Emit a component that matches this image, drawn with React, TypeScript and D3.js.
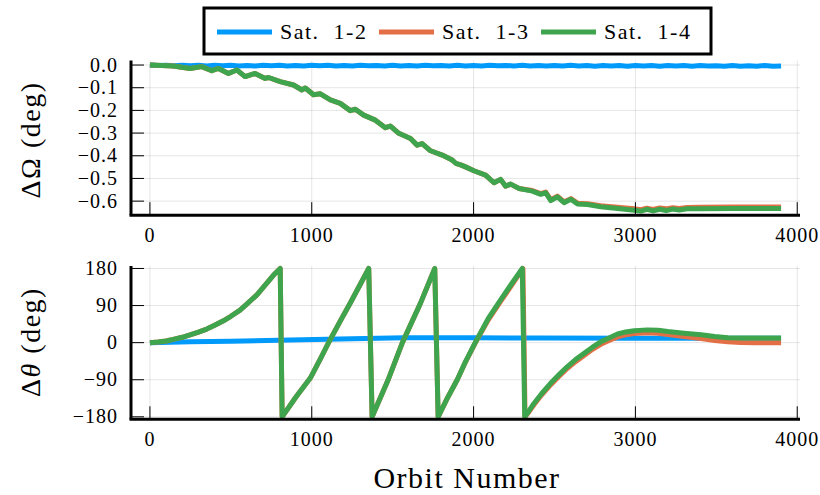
import React, { useEffect, useRef } from 'react';
import * as d3 from 'd3';

// ---- data ----
const orbitTicks = [0, 1000, 2000, 3000, 4000];
const omegaTicks = [0, -0.1, -0.2, -0.3, -0.4, -0.5, -0.6];
const omegaTickLabels = ['0.0', '−0.1', '−0.2', '−0.3', '−0.4', '−0.5', '−0.6'];
const thetaTicks = [180, 90, 0, -90, -180];
const thetaTickLabels = ['180', '90', '0', '−90', '−180'];

const seriesNames = ['Sat. 1-2', 'Sat. 1-3', 'Sat. 1-4'];
const seriesColors = ['#009AFA', '#E26F46', '#3EA44E'];

// ΔΩ, Sat. 1-2 sampled every 50 orbits
const omegaGrid12 = d3.range(0, 3901, 50);
const dOmega12 = [
  0, -0.002, -0.001, -0.003, -0.001, -0.003, -0.001, -0.004, -0.001, -0.003,
  -0.001, -0.004, -0.002, -0.004, -0.001, -0.003, -0.001, -0.004, -0.002, -0.004,
  -0.001, -0.003, -0.001, -0.004, -0.002, -0.004, -0.001, -0.003, -0.002, -0.004,
  -0.001, -0.004, -0.002, -0.004, -0.001, -0.003, -0.002, -0.004, -0.001, -0.004,
  -0.002, -0.004, -0.001, -0.003, -0.002, -0.004, -0.001, -0.004, -0.002, -0.004,
  -0.002, -0.004, -0.001, -0.004, -0.002, -0.005, -0.002, -0.004, -0.002, -0.005,
  -0.002, -0.004, -0.002, -0.005, -0.002, -0.004, -0.002, -0.005, -0.002, -0.004,
  -0.003, -0.005, -0.002, -0.005, -0.003, -0.005, -0.002, -0.005, -0.004,
];

// ΔΩ shared part of Sat. 1-3 and Sat. 1-4 (they overlap here)
const dOmegaShared: [number, number][] = [
  [0, 0], [144, -0.004], [248, -0.015], [320, -0.007], [382, -0.025], [423, -0.015],
  [485, -0.037], [537, -0.022], [588, -0.051], [650, -0.037], [712, -0.059], [733, -0.055],
  [805, -0.073], [887, -0.088], [940, -0.110], [960, -0.101], [1011, -0.131], [1053, -0.127],
  [1115, -0.154], [1176, -0.169], [1238, -0.201], [1269, -0.195], [1321, -0.221], [1393, -0.243],
  [1455, -0.276], [1486, -0.269], [1538, -0.301], [1610, -0.324], [1651, -0.353], [1682, -0.346],
  [1734, -0.378], [1806, -0.397], [1868, -0.419], [1890, -0.433], [1920, -0.440], [1950, -0.449],
  [2002, -0.466], [2074, -0.485], [2126, -0.519], [2167, -0.504], [2198, -0.534], [2229, -0.525],
  [2281, -0.544],
];
const dOmega13Tail: [number, number][] = [
  [2363, -0.553], [2415, -0.567], [2446, -0.560], [2477, -0.594], [2518, -0.578], [2559, -0.603],
  [2601, -0.589], [2642, -0.609], [2704, -0.611], [2786, -0.620], [2890, -0.627], [2993, -0.634],
  [3034, -0.638], [3070, -0.631], [3110, -0.637], [3150, -0.630], [3190, -0.634], [3230, -0.629],
  [3270, -0.632], [3320, -0.628], [3400, -0.627], [3600, -0.626], [3900, -0.626],
];
const dOmega14Tail: [number, number][] = [
  [2363, -0.556], [2415, -0.570], [2446, -0.563], [2477, -0.598], [2518, -0.581], [2559, -0.607],
  [2601, -0.592], [2642, -0.613], [2704, -0.615], [2786, -0.625], [2890, -0.632], [2993, -0.640],
  [3034, -0.644], [3070, -0.636], [3110, -0.643], [3150, -0.636], [3190, -0.641], [3230, -0.635],
  [3270, -0.639], [3320, -0.634], [3400, -0.634], [3600, -0.633], [3900, -0.632],
];

// Δθ (deg), wrapped to ±180
const dTheta12: [number, number][] = [
  [0, 0], [250, 2], [500, 3.5], [867, 6.5], [1250, 9.5], [1568, 12], [2000, 12],
  [2415, 11], [3000, 10.5], [3500, 10.5], [3900, 10.5],
];
const dThetaShared: [number, number][] = [
  [0, 0], [50, 1.5], [100, 4], [144, 8], [200, 13], [248, 18.7], [300, 25.5], [351, 33],
  [400, 42], [454, 53], [500, 64], [557, 79], [600, 94], [661, 116], [700, 134],
  [764, 164], [805, 180],
  [817, -180], [900, -133], [991, -86], [1050, -42], [1104, 0], [1170, 48], [1238, 96],
  [1295, 138], [1352, 180],
  [1373, -180], [1470, -92], [1560, 0], [1672, 96], [1760, 180],
  [1781, -180], [1840, -133], [1899, -90],
];
const dTheta13Tail: [number, number][] = [
  [1950, -47], [2010, -1], [2090, 55], [2167, 100], [2235, 139], [2305, 180],
  [2318, -180], [2342, -168], [2374, -150], [2420, -127], [2477, -102], [2530, -81],
  [2580, -62], [2630, -46], [2683, -31], [2735, -16], [2786, -4], [2840, 6], [2890, 14],
  [2940, 19], [2993, 22], [3075, 24], [3140, 23], [3200, 20], [3300, 15], [3406, 10],
  [3490, 5], [3571, 2], [3650, 0.5], [3736, 0], [3900, 0],
];
const dTheta14Tail: [number, number][] = [
  [1950, -46], [2010, 0], [2090, 58], [2167, 104], [2235, 143], [2301, 180],
  [2316, -180], [2340, -167], [2374, -147], [2420, -124], [2477, -98], [2530, -77],
  [2580, -58], [2630, -41], [2683, -26], [2735, -11], [2786, 2], [2840, 12], [2890, 21],
  [2940, 26], [2993, 29], [3075, 31], [3140, 30], [3200, 27], [3300, 23], [3406, 19],
  [3490, 15], [3571, 12], [3650, 11], [3736, 11], [3900, 11],
];

const W = 820;
const H = 495;
const FONT = '"Liberation Serif", "Times New Roman", serif';

const App = () => {
  const svgRef = useRef<SVGSVGElement>(null);

  useEffect(() => {
    document.body.style.margin = '0';
    const svg = d3.select(svgRef.current);
    svg.selectAll('*').remove();

    const x = d3.scaleLinear().domain([-117, 4017]).range([131, 800]);

    const panels = [
      {
        y: d3.scaleLinear().domain([-0.662, 0.02]).range([215.2, 60.5]),
        ticks: omegaTicks,
        labels: omegaTickLabels,
        series: [
          omegaGrid12.map((o, i) => [o, dOmega12[i]] as [number, number]),
          dOmegaShared.concat(dOmega13Tail),
          dOmegaShared.concat(dOmega14Tail),
        ],
        ylabel: 'omega',
        labelY: 140,
      },
      {
        y: d3.scaleLinear().domain([-186, 186]).range([419.3, 266]),
        ticks: thetaTicks,
        labels: thetaTickLabels,
        series: [dTheta12, dThetaShared.concat(dTheta13Tail), dThetaShared.concat(dTheta14Tail)],
        ylabel: 'theta',
        labelY: 342,
      },
    ];

    panels.forEach((p) => {
      const g = svg.append('g');
      const [y0, y1] = p.y.range();
      const [x0, x1] = x.range();

      // grid
      g.selectAll('.vg')
        .data(orbitTicks)
        .enter()
        .append('line')
        .attr('x1', (d) => x(d))
        .attr('x2', (d) => x(d))
        .attr('y1', y0)
        .attr('y2', y1)
        .attr('stroke', '#000')
        .attr('stroke-opacity', 0.1)
        .attr('stroke-width', 1);
      g.selectAll('.hg')
        .data(p.ticks)
        .enter()
        .append('line')
        .attr('x1', x0)
        .attr('x2', x1)
        .attr('y1', (d) => p.y(d))
        .attr('y2', (d) => p.y(d))
        .attr('stroke', '#000')
        .attr('stroke-opacity', 0.1)
        .attr('stroke-width', 1);

      // series
      const line = d3
        .line<[number, number]>()
        .x((d) => x(d[0]))
        .y((d) => p.y(d[1]));
      p.series.forEach((s, i) => {
        g.append('path')
          .attr('d', line(s))
          .attr('fill', 'none')
          .attr('stroke', seriesColors[i])
          .attr('stroke-width', 5)
          .attr('stroke-linejoin', 'round');
      });

      // tick marks (inward)
      g.selectAll('.xt')
        .data(orbitTicks)
        .enter()
        .append('line')
        .attr('x1', (d) => x(d))
        .attr('x2', (d) => x(d))
        .attr('y1', y0)
        .attr('y2', y0 - 13)
        .attr('stroke', '#000')
        .attr('stroke-width', 1);
      g.selectAll('.yt')
        .data(p.ticks)
        .enter()
        .append('line')
        .attr('x1', x0)
        .attr('x2', x0 + 13)
        .attr('y1', (d) => p.y(d))
        .attr('y2', (d) => p.y(d))
        .attr('stroke', '#000')
        .attr('stroke-width', 1);

      // spines
      g.append('line')
        .attr('x1', x0 - 1.5)
        .attr('x2', x1)
        .attr('y1', y0)
        .attr('y2', y0)
        .attr('stroke', '#000')
        .attr('stroke-width', 3);
      g.append('line')
        .attr('x1', x0)
        .attr('x2', x0)
        .attr('y1', y0)
        .attr('y2', y1)
        .attr('stroke', '#000')
        .attr('stroke-width', 3);

      // tick labels
      g.selectAll('.xl')
        .data(orbitTicks)
        .enter()
        .append('text')
        .attr('x', (d) => x(d))
        .attr('y', y0 + 27)
        .attr('text-anchor', 'middle')
        .style('font-family', FONT)
        .style('font-size', '20px')
        .style('letter-spacing', '1px')
        .text((d) => String(d));
      g.selectAll('.yl')
        .data(p.ticks)
        .enter()
        .append('text')
        .attr('x', 118)
        .attr('y', (d) => p.y(d) + 6.5)
        .attr('text-anchor', 'end')
        .style('font-family', FONT)
        .style('font-size', '20px')
        .style('letter-spacing', '1px')
        .text((d, i) => p.labels[i]);

      // y label
      const t = g
        .append('text')
        .attr('transform', `translate(40,${p.labelY}) rotate(-90)`)
        .attr('text-anchor', 'middle')
        .style('font-family', FONT)
        .style('font-size', '28px')
        .style('letter-spacing', '1.5px');
      if (p.ylabel === 'omega') {
        t.text('ΔΩ (deg)');
      } else {
        t.append('tspan').text('Δ');
        t.append('tspan').style('font-style', 'italic').text('θ');
        t.append('tspan').text(' (deg)');
      }
    });

    // x label
    svg
      .append('text')
      .attr('x', 467)
      .attr('y', 488)
      .attr('text-anchor', 'middle')
      .style('font-family', FONT)
      .style('font-size', '30px')
      .style('letter-spacing', '1.5px')
      .text('Orbit Number');

    // legend
    const lg = svg.append('g');
    lg.append('rect')
      .attr('x', 204)
      .attr('y', 8)
      .attr('width', 507)
      .attr('height', 46)
      .attr('fill', '#fff')
      .attr('stroke', '#000')
      .attr('stroke-width', 3);
    const entryX = [217, 379, 541];
    seriesNames.forEach((name, i) => {
      lg.append('line')
        .attr('x1', entryX[i])
        .attr('x2', entryX[i] + 55)
        .attr('y1', 32)
        .attr('y2', 32)
        .attr('stroke', seriesColors[i])
        .attr('stroke-width', 5);
      lg.append('text')
        .attr('x', entryX[i] + 63)
        .attr('y', 39)
        .style('font-family', FONT)
        .style('font-size', '22px')
        .style('letter-spacing', '1.5px')
        .style('white-space', 'pre')
        .text(name.replace(' ', '  '));
    });
  }, []);

  return (
    <svg ref={svgRef} width={W} height={H} style={{ display: 'block', background: '#fff' }}></svg>
  );
};

export default App;
